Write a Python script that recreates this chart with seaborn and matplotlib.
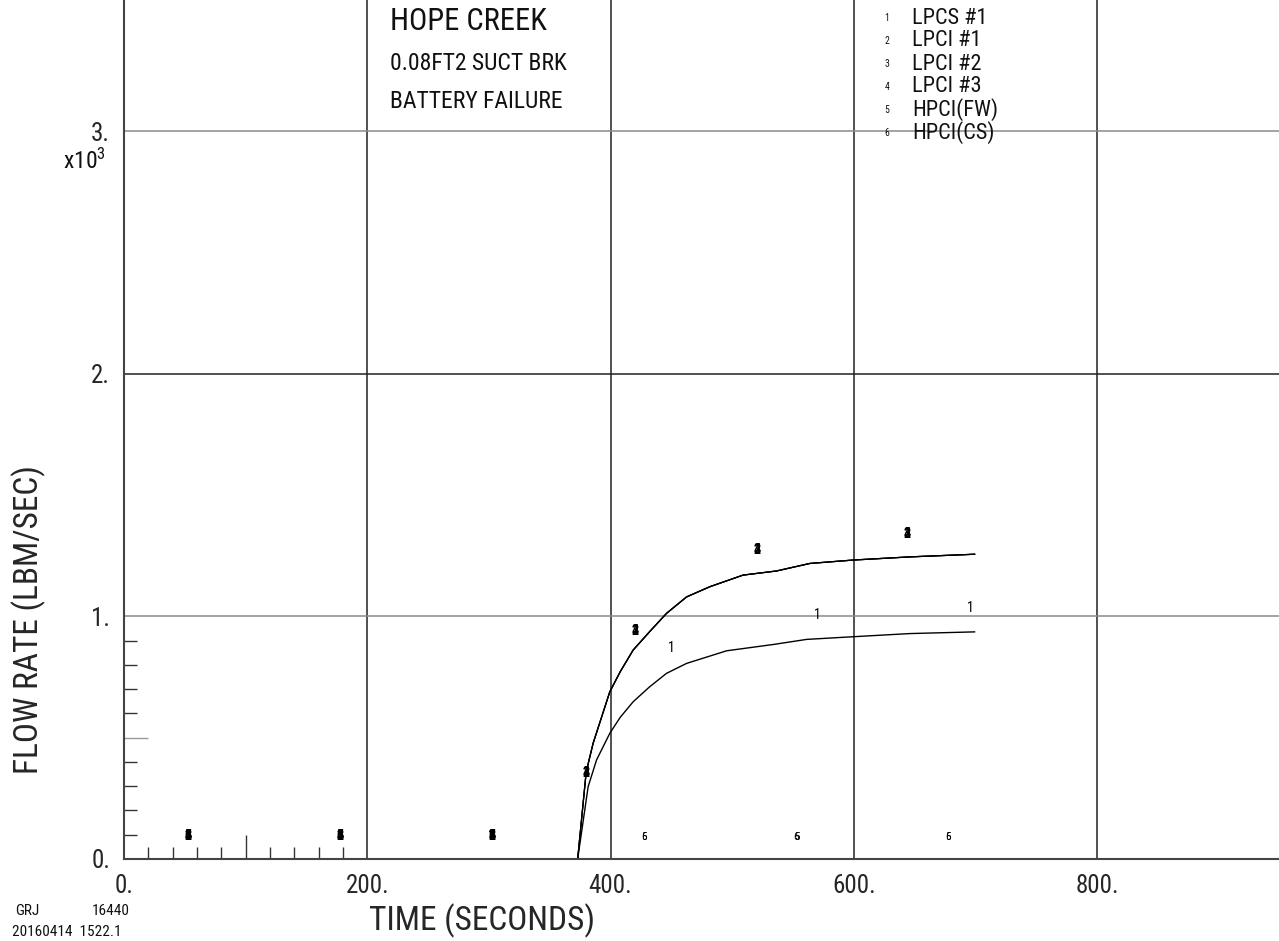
import matplotlib
matplotlib.use("Agg")
import matplotlib.pyplot as plt
from matplotlib import font_manager as fm
import numpy as np
import pandas as pd
import seaborn as sns

# ---- data -------------------------------------------------------------
# LPCS #1 flow (lbm/s) vs time (s)
time_lpcs = [0, 373, 381.6, 388.5, 399.4, 408, 418.6, 432, 446, 462.5, 495.4,
             533.8, 561.2, 599.5, 646, 699.5]
flow_lpcs = [0, 0, 298, 408, 518, 584, 648, 709, 765, 806, 858,
             884, 905, 916, 929, 936]

# LPCI #1, #2, #3 flow (identical traces)
time_lpci = [0, 373, 380, 385.7, 399.4, 408, 418.6, 432, 446, 462.5, 481.6,
             509, 536.5, 563.9, 599.5, 646, 699.5]
flow_lpci = [0, 0, 359, 477, 689, 772, 861, 936, 1012, 1080, 1122,
             1170, 1187, 1218, 1232, 1245, 1256]

# curve identification symbols (time, flow) as plotted
sym_all_t = [52.8, 177.6, 302.3]
sym_all_y = [95, 95, 95]
sym_lpcs_t = [450, 570, 695.4]
sym_lpcs_y = [868, 1005, 1035]
sym_lpci_t = [380, 420, 520.5, 644]
sym_lpci_y = [355, 940, 1273, 1339]
sym_hpci_t = [427.8, 552.9, 677.5]
sym_hpci_y = [92, 92, 92]

legend_ids = ["1", "2", "3", "4", "5", "6"]
legend_names = ["LPCS #1", "LPCI #1", "LPCI #2", "LPCI #3", "HPCI(FW)", "HPCI(CS)"]

title_lines = ["HOPE CREEK", "0.08FT2 SUCT BRK", "BATTERY FAILURE"]

x_major = [0, 200, 400, 600, 800]
x_major_labels = ["0.", "200.", "400.", "600.", "800."]
y_major = [0, 1000, 2000, 3000]
y_major_labels = ["0.", "1.", "2.", "3."]
x_minor = [20, 40, 60, 80, 120, 140, 160, 180]
y_minor = [100, 200, 300, 400, 600, 700, 800, 900]

# ---- style ------------------------------------------------------------
sns.set_theme(style="white")

# prefer a narrow face for the plotter-style lettering
names = {f.name for f in fm.fontManager.ttflist}
condensed_dejavu = any(f.name == "DejaVu Sans" and f.stretch in ("condensed", 300)
                       for f in fm.fontManager.ttflist)
narrow = None
for cand in ["Liberation Sans Narrow", "Roboto Condensed", "Open Sans Condensed",
             "Arial Narrow"]:
    if cand in names:
        narrow = cand
        break
if narrow:
    plt.rcParams["font.family"] = [narrow, "DejaVu Sans"]
    k = 1.0
elif condensed_dejavu:
    plt.rcParams["font.family"] = ["DejaVu Sans"]
    plt.rcParams["font.stretch"] = "condensed"
    k = 0.9
else:
    plt.rcParams["font.family"] = ["Liberation Sans", "DejaVu Sans"]
    k = 0.8
plt.rcParams["text.color"] = "#111111"

W, H = 1279, 941
fig = plt.figure(figsize=(W / 100, H / 100), dpi=100)
fig.patch.set_facecolor("white")
ax = fig.add_axes([124 / W, 82 / H, (W - 124) / W, 859 / H])
ax.set_facecolor("white")

# ---- curves -----------------------------------------------------------
lpcs = pd.DataFrame({"t": time_lpcs, "w": flow_lpcs})
lpci = pd.DataFrame({"t": time_lpci, "w": flow_lpci})
sns.lineplot(data=lpcs, x="t", y="w", color="black", lw=1.0, ax=ax, sort=False)
for _ in range(3):
    sns.lineplot(data=lpci, x="t", y="w", color="black", lw=0.9, ax=ax, sort=False)

# ---- axes -------------------------------------------------------------
ax.set_xlim(0, 949.6)
ax.set_ylim(0, 3540)
for s in ["top", "right"]:
    ax.spines[s].set_visible(False)
for s in ["left", "bottom"]:
    ax.spines[s].set_color("#444444")
    ax.spines[s].set_linewidth(1.5)

ax.set_xticks(x_major)
ax.set_xticklabels(x_major_labels, fontsize=18 * k)
ax.set_yticks(y_major)
ax.set_yticklabels(y_major_labels, fontsize=18 * k)
ax.set_xticks(x_minor, minor=True)
ax.set_yticks(y_minor, minor=True)
ax.tick_params(bottom=True, left=True, which="both")
ax.tick_params(axis="both", which="major", length=0)
ax.tick_params(axis="x", which="major", pad=11)
ax.tick_params(axis="y", which="major", pad=10)
ax.tick_params(axis="both", which="minor", direction="in", length=9,
               width=1.0, color="#333333")

sec_x = ax.secondary_xaxis(0)
sec_x.set_xticks([100])
sec_x.tick_params(bottom=True, direction="in", length=17, width=1.0,
                  color="#333333", labelbottom=False)
sec_x.spines["bottom"].set_visible(False)
sec_y = ax.secondary_yaxis(0)
sec_y.set_yticks([500])
sec_y.tick_params(left=True, direction="in", length=17, width=1.0,
                  color="#999999", labelleft=False)
sec_y.spines["left"].set_visible(False)

ax.grid(True, axis="x", color="#222222", lw=1.1)
ax.grid(True, axis="y", color="#8a8a8a", lw=1.1)
ax.get_ygridlines()[2].set_color("#222222")
ax.set_axisbelow(True)

ax.set_xlabel("TIME (SECONDS)", fontsize=24 * k)
ax.set_ylabel("FLOW RATE (LBM/SEC)", fontsize=24 * k)
ax.xaxis.set_label_coords((482 - 124) / (W - 124), (859 - 903) / 859)
ax.yaxis.set_label_coords((46 - 124) / (W - 124), (859 - 620) / 859)

fig.text(84 / W, 1 - 161 / H, r"$\mathregular{x10^{3}}$", fontsize=17 * k,
         ha="center", va="center")

# ---- curve symbols ----------------------------------------------------
def put_symbols(ts, ys, labels, size, weight):
    for t, y in zip(ts, ys):
        for lab in labels:
            ax.text(t, y, lab, fontsize=size, fontweight=weight,
                    ha="center", va="center", color="black")

put_symbols(sym_all_t, sym_all_y, legend_ids, 10, "bold")
put_symbols(sym_lpcs_t, sym_lpcs_y, ["1"], 10, "normal")
put_symbols(sym_lpci_t, sym_lpci_y, ["2", "3", "4"], 10, "bold")
put_symbols(sym_hpci_t, sym_hpci_y, ["5", "6"], 8, "normal")

# ---- title block & legend --------------------------------------------
for text, y_px, size in zip(title_lines, [22, 64, 101], [22, 17, 17]):
    fig.text(390 / W, 1 - y_px / H, text, fontsize=size * k, ha="left", va="center")

for i, (num, name) in enumerate(zip(legend_ids, legend_names)):
    y_px = 18 + i * 23
    fig.text(887 / W, 1 - y_px / H, num, fontsize=7, ha="center", va="center")
    fig.text(912 / W, 1 - y_px / H, name, fontsize=16 * k, ha="left", va="center")

# ---- footer -----------------------------------------------------------
fig.text(15 / W, 1 - 911 / H, "GRJ", fontsize=11 * k, ha="left", va="center")
fig.text(92 / W, 1 - 911 / H, "16440", fontsize=11 * k, ha="left", va="center")
fig.text(12 / W, 1 - 932 / H, "20160414  1522.1", fontsize=11 * k, ha="left", va="center")

fig.savefig("out.png", dpi=100, facecolor="white")
